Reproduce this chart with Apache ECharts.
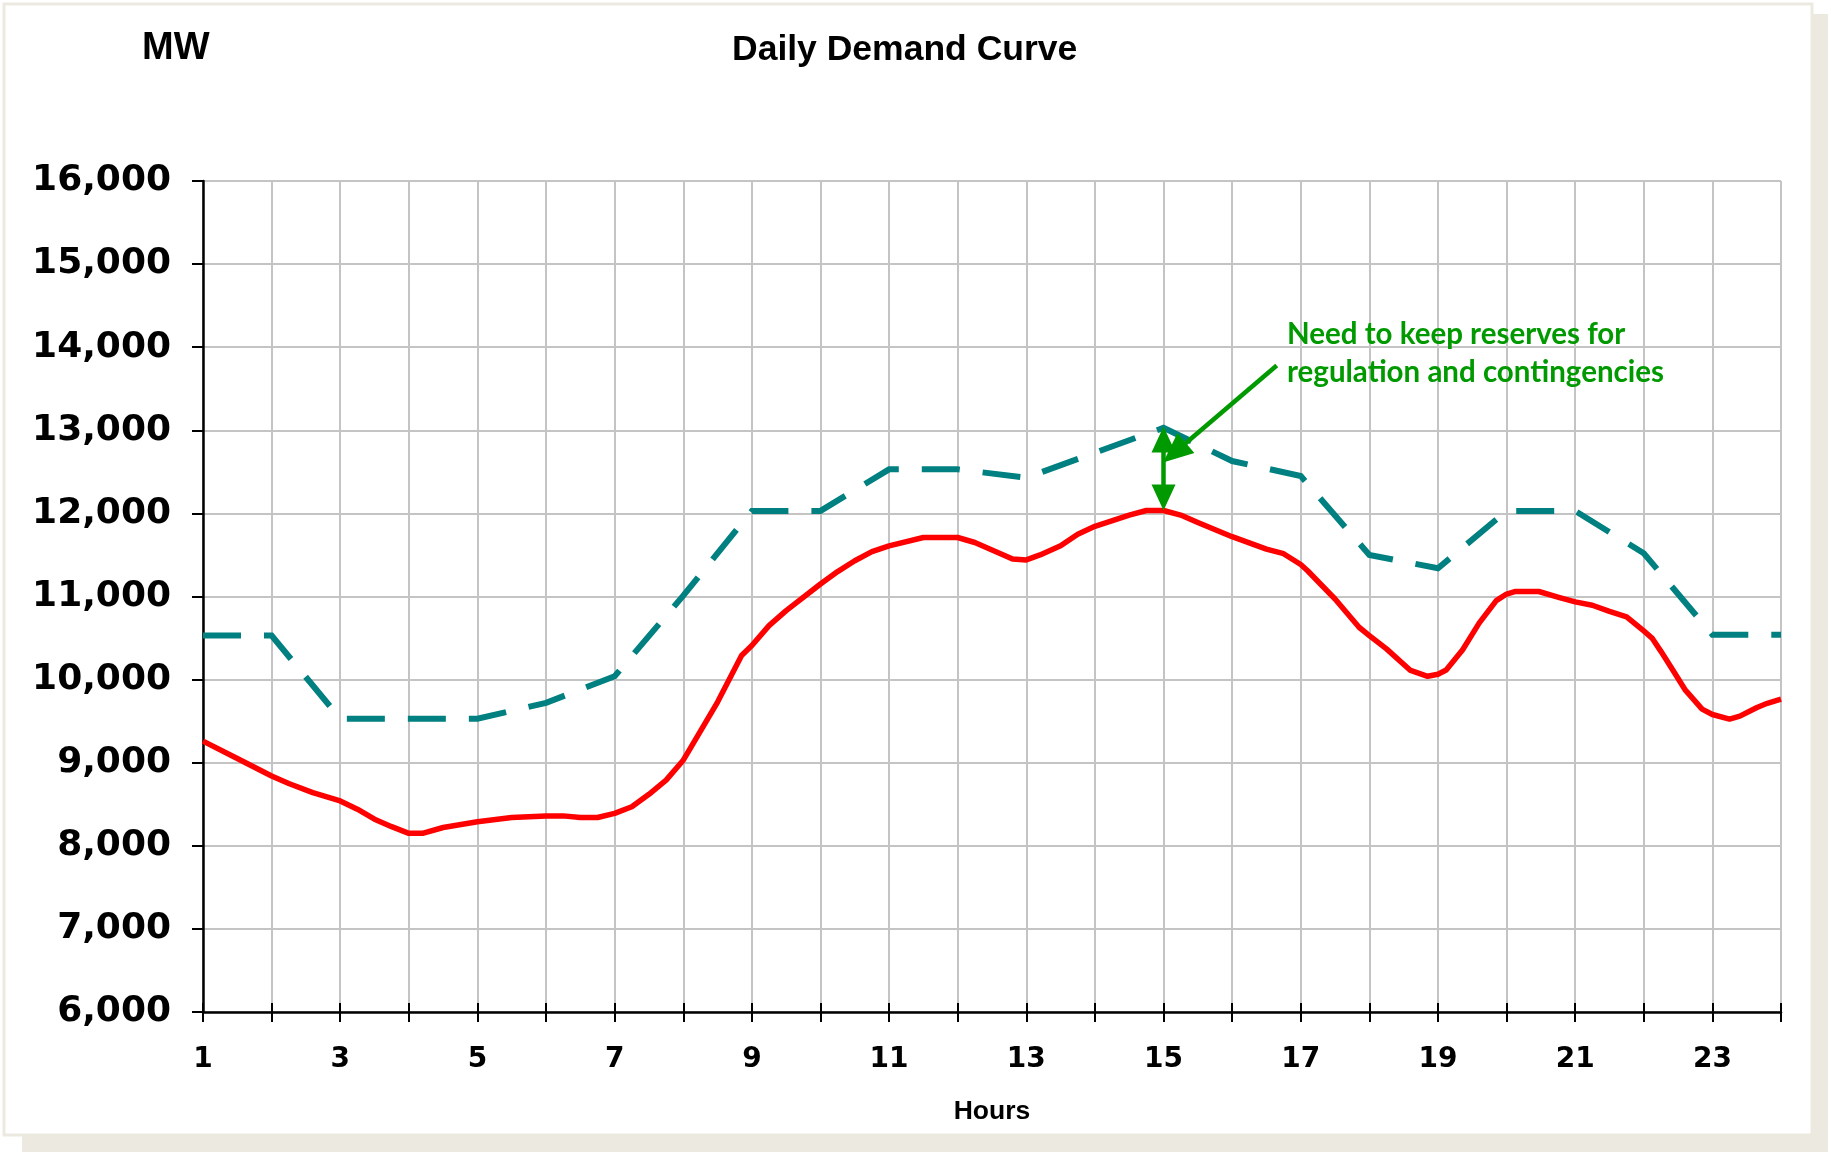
<!DOCTYPE html>
<html><head><meta charset="utf-8">
<script src="https://cdn.jsdelivr.net/npm/echarts@6/dist/echarts.min.js"></script>
<style>html,body{margin:0;padding:0;background:#fff}#c{width:1831px;height:1157px}</style>
</head><body><div id="c"></div>
<script>
// Red: actual demand (hour, MW)
const demandHours = [1, 1.5, 2, 2.25, 2.6, 3, 3.25, 3.5, 3.75, 4, 4.2, 4.5, 5, 5.5, 6, 6.25, 6.5, 6.75, 7, 7.25,
  7.5, 7.75, 8, 8.1, 8.5, 8.85, 9, 9.25, 9.5, 10, 10.25, 10.5, 10.75, 11, 11.5, 12, 12.25, 12.5, 12.8, 13,
  13.2, 13.5, 13.75, 14, 14.5, 14.75, 15, 15.25, 15.5, 16, 16.5, 16.75, 17, 17.1, 17.5, 17.85, 18, 18.25, 18.6, 18.85,
  19, 19.12, 19.36, 19.6, 19.85, 20, 20.12, 20.47, 20.76, 21, 21.25, 21.5, 21.75, 22, 22.12, 22.25, 22.45, 22.6, 22.85, 23,
  23.25, 23.4, 23.65, 23.8, 24];
const demandMW = [9260, 9050, 8840, 8750, 8640, 8540, 8440, 8320, 8230, 8150, 8150, 8220, 8290, 8340, 8360, 8360, 8340, 8340, 8390, 8470,
  8620, 8790, 9030, 9170, 9730, 10290, 10410, 10650, 10830, 11150, 11300, 11430, 11540, 11610, 11710, 11710, 11650, 11560, 11450, 11440,
  11500, 11610, 11750, 11845, 11980, 12035, 12035, 11980, 11890, 11720, 11570, 11515, 11385, 11310, 10970, 10630, 10530, 10370, 10110, 10040,
  10065, 10115, 10360, 10680, 10950, 11030, 11060, 11060, 10990, 10935, 10895, 10820, 10755, 10585, 10500, 10340, 10080, 9880, 9645, 9580,
  9525, 9560, 9665, 9715, 9766];
// Teal dashed: demand plus reserves (hourly)
const reserveHours = [1,2,3,4,5,6,7,8,9,10,11,12,13,14,15,16,17,18,19,20,21,22,23,24];
const reserveMW = [10530, 10530, 9530, 9530, 9530, 9720, 10040, 11010, 12030, 12030, 12530, 12530,
  12430, 12730, 13030, 12630, 12450, 11500, 11340, 12030, 12030, 11520, 10540, 10540];
// Axis ranges / ticks
const yMin = 6000, yMax = 16000, yStep = 1000;
const xMin = 1, xMax = 24, xStep = 1;
// Annotation anchors (hour, MW)
const noteArrowFrom = [16.65, 13780];
const noteArrowTo = [15.16, 12730];
const gapTop = [15, 12890];
const gapBottom = [15, 12190];
const titleText = 'Daily Demand Curve';
const unitText = 'MW';
const xName = 'Hours';
const noteText = 'Need to keep reserves for\nregulation and contingencies';

const zip = (a, b) => a.map((v, i) => [v, b[i]]);
const chart = echarts.init(document.getElementById('c'), null, {renderer: 'canvas'});
const green = '#009A00';
const tickFont = {fontFamily: 'DejaVu Sans', fontWeight: 'bold', color: '#000'};

chart.setOption({
  animation: false,
  backgroundColor: '#fff',
  title: {
    text: titleText, left: 727, top: 27,
    textStyle: {fontFamily: 'Liberation Sans', fontWeight: 'bold', fontSize: 35.5, color: '#000'}
  },
  grid: {left: 203, right: 50, top: 181, bottom: 145, containLabel: false, outerBoundsMode: 'none'},
  xAxis: [{
    type: 'value', min: xMin, max: xMax, interval: xStep,
    name: xName, nameLocation: 'middle', nameGap: 86,
    nameTextStyle: {fontFamily: 'Liberation Sans', fontWeight: 'bold', fontSize: 26.5, color: '#000'},
    axisLine: {show: true, onZero: false, lineStyle: {color: '#000', width: 2.5}},
    axisTick: {show: true, inside: false, length: 10, lineStyle: {color: '#000', width: 2}},
    axisLabel: Object.assign({
      fontSize: 28, margin: 34, hideOverlap: false, showMinLabel: true, showMaxLabel: true,
      formatter: v => (v % 2 === 1 && v < xMax) ? String(v) : ''
    }, tickFont),
    splitLine: {show: true, lineStyle: {color: '#C4C4C4', width: 2}}
  }, {
    type: 'value', min: xMin, max: xMax, interval: xStep, position: 'bottom',
    axisLine: {show: false}, axisLabel: {show: false}, splitLine: {show: false},
    axisTick: {show: true, inside: true, length: 9, lineStyle: {color: '#000', width: 2}}
  }],
  yAxis: {
    type: 'value', min: yMin, max: yMax, interval: yStep,
    axisLine: {show: true, onZero: false, lineStyle: {color: '#000', width: 2.5}},
    axisTick: {show: true, inside: false, length: 11, lineStyle: {color: '#000', width: 2}},
    axisLabel: Object.assign({
      fontSize: 36, margin: 32, showMinLabel: true, showMaxLabel: true,
      formatter: v => v.toLocaleString('en-US')
    }, tickFont),
    splitLine: {show: true, lineStyle: {color: '#C4C4C4', width: 2}}
  },
  graphic: [
    {type: 'rect', z: -20, shape: {x: 22, y: 14, width: 1806, height: 1138}, style: {fill: '#ECEAE0'}},
    {type: 'rect', z: -19, shape: {x: 4, y: 4, width: 1808, height: 1131}, style: {fill: '#fff', stroke: '#ECEAE0', lineWidth: 3}},
    {type: 'text', z: 50, x: 142, y: 30, style: {text: unitText, fontFamily: 'Liberation Sans', fontWeight: 'bold', fontSize: 38, fill: '#000'}},
    {type: 'text', z: 50, x: 1287, y: 315, style: {text: noteText, fontFamily: 'Lato', fontWeight: 'bold', fontSize: 29.5, lineHeight: 38, fill: green}}
  ],
  series: [{
    type: 'line', name: 'Demand + reserves', data: zip(reserveHours, reserveMW),
    showSymbol: false, symbol: 'none', z: 3,
    lineStyle: {color: '#008080', width: 6, type: [38, 23], cap: 'butt', join: 'miter'}
  }, {
    type: 'line', name: 'Demand', data: zip(demandHours, demandMW),
    showSymbol: false, symbol: 'none', z: 4,
    lineStyle: {color: '#FF0000', width: 5.5, join: 'round'},
    markLine: {
      silent: true, animation: false, precision: 2,
      symbolSize: [24, 26],
      label: {show: false},
      lineStyle: {color: green, width: 4.5, type: 'solid'},
      data: [
        [{coord: noteArrowFrom, symbol: 'none'}, {coord: noteArrowTo, symbol: 'triangle', symbolSize: [26, 30]}],
        [{coord: gapTop, symbol: 'triangle'}, {coord: gapBottom, symbol: 'triangle'}]
      ]
    }
  }]
});
</script>
</body></html>
